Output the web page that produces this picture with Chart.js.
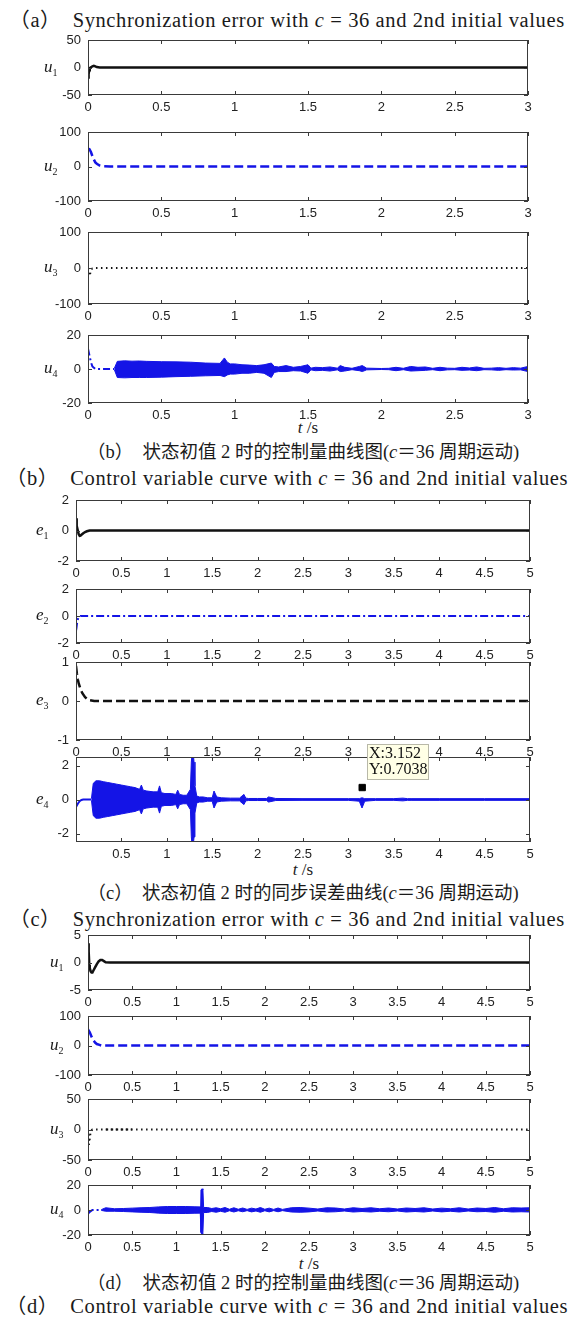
<!DOCTYPE html>
<html>
<head>
<meta charset="utf-8">
<script src="https://cdn.jsdelivr.net/npm/chart.js@4.4.1/dist/chart.umd.min.js"></script>
<style>
  body { margin:0; background:#fff; }
  #fig { position:relative; width:575px; height:1329px; overflow:hidden; background:#fff; }
  .txt { position:absolute; white-space:pre; color:#1a1a1a; font-family:"Liberation Serif","Noto Sans CJK SC",serif; line-height:1; }
  .en { letter-spacing:0.6px; }
  .sub { font-size:10px; vertical-align:-4px; font-style:normal; }
</style>
</head>
<body>
<div id="fig"></div>
<script>
// ---------- data ----------
var ticksA = [0, 0.5, 1, 1.5, 2, 2.5, 3];
var ticksC = [0, 0.5, 1, 1.5, 2, 2.5, 3, 3.5, 4, 4.5, 5];

// (a) u1..u4, t = 0..3 s
var aU1T = [0, 0.004, 0.008, 0.012, 0.02, 0.03, 0.04, 0.05, 0.06, 0.08, 3];
var aU1V = [-18, -12, -5, -1, 0.5, 2, 3, 2, 0.8, 0, 0];
var aU2T = [0, 0.01, 0.02, 0.03, 0.04, 0.05, 0.06, 0.08, 0.1, 0.15, 3];
var aU2V = [52, 50, 42, 30, 20, 12, 8, 3, 1, 0, 0];
var aU3T = [0, 0.005, 0.01, 0.015, 0.02, 0.03, 0.05, 3];
var aU3V = [0, -10, -22, -15, -5, -1, 0, 0];
var aU4T = [0, 0.01, 0.02, 0.03, 0.05, 0.18];
var aU4V = [12, 8, 4, 1.5, 0, 0];
var aU4BandT = [0.18, 0.2, 0.25, 0.3, 0.35, 0.4, 0.5, 0.6, 0.7, 0.8,
                0.9, 0.93, 0.95, 0.97, 1.0, 1.05, 1.1, 1.15, 1.2, 1.25,
                1.27, 1.3, 1.35, 1.4, 1.45, 1.5, 1.52, 1.55, 1.6, 1.65,
                1.7, 1.72, 1.75, 1.8, 1.85, 1.87, 1.9, 1.95, 2.0, 2.05,
                2.1, 2.15, 2.2, 2.25, 2.3, 2.35, 2.4, 2.45, 2.5, 2.55,
                2.6, 2.65, 2.7, 2.75, 2.8, 2.85, 2.9, 2.95, 3.0];
var aU4BandUp = [0.5, 4.5, 4.8, 4.6, 4.7, 4.5, 4.3, 4.2, 4.0, 3.5,
                 3.3, 6.5, 4.0, 3.0, 3.0, 2.5, 2.3, 2.0, 2.5, 3.5,
                 1.5, 1.2, 2.0, 1.0, 1.5, 2.5, 0.5, 1.0, 0.8, 1.2,
                 0.5, 2.0, 1.0, 0.4, 1.5, 2.0, 0.5, 0.4, 0.3, 0.4,
                 1.0, 0.4, 1.5, 1.0, 1.2, 0.4, 1.0, 0.5, 0.4, 1.0,
                 0.6, 1.2, 0.4, 0.5, 0.8, 0.4, 0.8, 0.5, 1.5];
var aU4BandLo = [-0.5, -5, -5.2, -5, -5, -5, -4.8, -4.5, -4.3, -4,
                 -3.8, -4.5, -3.5, -3, -3, -2.5, -2.5, -2, -2.5, -5,
                 -2, -1.5, -1.5, -1, -1.2, -2.5, -0.5, -1, -0.8, -1.2,
                 -0.5, -1.5, -1.2, -0.4, -1, -1.5, -0.5, -0.4, -0.3, -0.4,
                 -1, -0.4, -1.2, -1, -0.8, -0.4, -1, -0.5, -0.4, -0.8,
                 -0.6, -1, -0.4, -0.5, -0.8, -0.4, -0.6, -0.5, -1.5];

// (c) e1..e4, t = 0..5 s
var cE1T = [0, 0.005, 0.01, 0.02, 0.03, 0.04, 0.05, 0.06, 0.08, 0.1, 0.12, 0.15, 0.2, 5];
var cE1V = [0.8, 0.6, 0.3, 0, -0.25, -0.35, -0.33, -0.28, -0.18, -0.1, -0.05, 0, 0, 0];
var cE2T = [0, 0.005, 0.01, 0.02, 0.03, 0.05, 5];
var cE2V = [-1.1, -0.9, -0.6, -0.25, -0.05, 0, 0];
var cE3T = [0, 0.01, 0.02, 0.03, 0.05, 0.07, 0.1, 0.13, 0.15, 0.2, 5];
var cE3V = [0.9, 0.7, 0.55, 0.45, 0.3, 0.2, 0.1, 0.04, 0.02, 0, 0];
var cE4T = [0, 0.02, 0.04, 0.06, 0.08, 0.1, 0.17];
var cE4V = [-0.45, -0.25, -0.1, -0.03, 0, 0, 0];
var cE4BandT = [0.17, 0.19, 0.22, 0.26, 0.3, 0.35, 0.4, 0.45, 0.5, 0.55,
                0.6, 0.65, 0.7, 0.72, 0.74, 0.78, 0.85, 0.9, 0.92, 0.94,
                0.98, 1.05, 1.1, 1.12, 1.14, 1.18, 1.22, 1.26, 1.27, 1.28,
                1.29, 1.3, 1.31, 1.33, 1.36, 1.4, 1.45, 1.5, 1.52, 1.55,
                1.6, 1.7, 1.8, 1.85, 1.87, 1.9, 2.0, 2.1, 2.12, 2.2,
                2.5, 3.0, 3.12, 3.15, 3.18, 3.3, 3.5, 3.6, 3.65, 3.7,
                4.0, 4.5, 5.0];
var cE4BandUp = [0.05, 0.95, 1.1, 1.1, 1.05, 1.0, 0.95, 0.9, 0.85, 0.8,
                 0.75, 0.7, 0.6, 0.85, 0.55, 0.5, 0.45, 0.45, 0.8, 0.4,
                 0.35, 0.35, 0.3, 0.55, 0.3, 0.25, 0.25, 0.6, 2.2, 2.8,
                 2.8, 2.2, 0.8, 0.2, 0.15, 0.15, 0.1, 0.1, 0.5, 0.15,
                 0.1, 0.08, 0.08, 0.3, 0.08, 0.06, 0.06, 0.06, 0.15, 0.06,
                 0.05, 0.05, 0.05, 0.1, 0.05, 0.05, 0.05, 0.08, 0.05, 0.05,
                 0.05, 0.05, 0.05];
var cE4BandLo = [-0.05, -0.95, -1.1, -1.1, -1.05, -1.0, -0.95, -0.9, -0.85, -0.8,
                 -0.75, -0.7, -0.6, -0.85, -0.55, -0.5, -0.45, -0.45, -0.8, -0.4,
                 -0.35, -0.35, -0.3, -0.55, -0.3, -0.25, -0.25, -0.6, -2.2, -2.8,
                 -2.8, -2.2, -0.8, -0.2, -0.15, -0.15, -0.1, -0.1, -0.5, -0.15,
                 -0.1, -0.08, -0.08, -0.3, -0.08, -0.06, -0.06, -0.06, -0.15, -0.06,
                 -0.05, -0.05, -0.1, -0.5, -0.1, -0.05, -0.05, -0.08, -0.05, -0.05,
                 -0.05, -0.05, -0.05];
var tipX = [3.152];
var tipY = [0.7038];

// (d) u1..u4, t = 0..5 s
var dU1T = [0, 0.005, 0.01, 0.015, 0.02, 0.03, 0.04, 0.05, 0.06, 0.08, 0.1, 0.12, 0.14, 0.16, 0.18, 0.2, 0.25, 5];
var dU1V = [1, 3.5, 2, -0.5, -1, -1.6, -1.8, -1.8, -1.5, -0.9, -0.3, 0.2, 0.45, 0.45, 0.25, 0.05, 0, 0];
var dU2T = [0, 0.02, 0.04, 0.06, 0.08, 0.1, 0.13, 0.15, 5];
var dU2V = [55, 45, 30, 18, 10, 5, 2, 0, 0];
var dU3T = [0, 0.005, 0.01, 0.02, 0.03, 0.05, 5];
var dU3V = [0, -10, -25, -15, -3, 0, 0];
var dU3HeavyT = [0.2, 0.5];          // darker stretch near t = 0.2..0.5
var dU3HeavyV = [0, 0];
var dU4T = [0, 0.02, 0.05, 0.1, 0.15];
var dU4V = [-3, -1.5, 0, 0, 0];
var dU4BandT = [0.15, 0.2, 0.3, 0.4, 0.5, 0.6, 0.7, 0.8, 0.9, 1.0,
                1.1, 1.2, 1.27, 1.278, 1.29, 1.3, 1.308, 1.35, 1.4, 1.45,
                1.5, 1.55, 1.6, 1.65, 1.7, 1.75, 1.8, 1.85, 1.9, 1.95,
                2.0, 2.05, 2.1, 2.15, 2.2, 2.3, 2.4, 2.5, 2.6, 2.7,
                2.8, 2.9, 3.0, 3.1, 3.2, 3.3, 3.4, 3.5, 3.6, 3.7,
                3.8, 3.9, 4.0, 4.1, 4.2, 4.3, 4.4, 4.5, 4.6, 4.7,
                4.8, 4.9, 5.0];
var dU4BandUp = [0.3, 1.8, 1.0, 1.2, 1.5, 1.8, 2.0, 2.5, 2.8, 2.8,
                 2.8, 2.6, 2.5, 16, 17, 16, 2.0, 2.0, 1.2, 1.8,
                 1.0, 2.0, 0.6, 1.8, 0.6, 1.6, 0.5, 1.5, 0.8, 2.0,
                 0.6, 1.5, 0.5, 1.6, 0.5, 1.8, 2.0, 1.5, 0.8, 1.8,
                 1.6, 0.8, 1.8, 1.2, 1.8, 1.0, 1.6, 0.8, 1.6, 1.2,
                 1.8, 0.8, 1.5, 1.0, 1.8, 0.8, 1.6, 1.2, 2.0, 1.0,
                 1.8, 1.6, 1.8];
var dU4BandLo = [-0.3, -1.0, -1.0, -1.2, -1.5, -1.8, -2.0, -2.5, -2.8, -2.8,
                 -2.8, -2.6, -2.5, -18, -20, -18, -2.0, -2.0, -1.2, -1.8,
                 -1.0, -1.8, -0.6, -1.6, -0.6, -1.4, -0.5, -1.5, -0.8, -1.8,
                 -0.6, -1.5, -0.5, -1.4, -0.5, -1.6, -1.8, -1.5, -0.8, -1.6,
                 -1.4, -0.8, -1.6, -1.2, -1.6, -1.0, -1.4, -0.8, -1.6, -1.2,
                 -1.6, -0.8, -1.5, -1.0, -1.6, -0.8, -1.4, -1.2, -1.8, -1.0,
                 -1.6, -1.4, -1.6];

// ---------- helpers ----------
var BLUE = '#1414e6';
var fig = document.getElementById('fig');

function pts(t, v) { return t.map(function (x, i) { return { x: x, y: v[i] }; }); }

function line(t, v, color, dash, width) {
  return { data: pts(t, v), borderColor: color, borderWidth: width || 2, borderDash: dash || [], fill: false };
}
function band(t, up, lo, color) {
  return [
    { data: pts(t, up), borderColor: color, borderWidth: 1, fill: false },
    { data: pts(t, lo), borderColor: color, borderWidth: 1, fill: '-1', backgroundColor: color }
  ];
}

// MATLAB-like box with inward ticks (+ optional data tip)
var boxPlugin = {
  id: 'matlabBox',
  afterDraw: function (chart) {
    var ctx = chart.ctx, a = chart.chartArea, x = chart.scales.x, y = chart.scales.y;
    ctx.save();
    ctx.strokeStyle = '#3a3a3a';
    ctx.lineWidth = 1;
    ctx.strokeRect(a.left + 0.5, a.top + 0.5, a.right - a.left - 1, a.bottom - a.top - 1);
    ctx.beginPath();
    x.ticks.forEach(function (t) {
      var p = Math.round(x.getPixelForValue(t.value)) + 0.5;
      ctx.moveTo(p, a.bottom); ctx.lineTo(p, a.bottom - 4);
      ctx.moveTo(p, a.top); ctx.lineTo(p, a.top + 4);
    });
    y.ticks.forEach(function (t) {
      var p = Math.round(y.getPixelForValue(t.value)) + 0.5;
      ctx.moveTo(a.left, p); ctx.lineTo(a.left + 4, p);
      ctx.moveTo(a.right, p); ctx.lineTo(a.right - 4, p);
    });
    ctx.stroke();

    var tip = chart.options.plugins.tipBox;
    if (tip && tip.show) {
      var px = x.getPixelForValue(tipX[0]), py = y.getPixelForValue(tipY[0]);
      var bx = Math.round(px + 5), by = Math.round(py - 44), bw = 62, bh = 36;
      ctx.fillStyle = '#ffffe6';
      ctx.strokeStyle = '#b8b8a8';
      ctx.fillRect(bx, by, bw, bh);
      ctx.strokeRect(bx + 0.5, by + 0.5, bw - 1, bh - 1);
      ctx.fillStyle = '#111';
      ctx.font = '16px "Liberation Serif", serif';
      ctx.textBaseline = 'middle';
      ctx.fillText('X:' + tipX[0], bx + 2, by + 10);
      ctx.fillText('Y:' + tipY[0], bx + 2, by + 26);
    }
    ctx.restore();
  }
};

function panel(o) {
  var padL = 44, padR = 12, padT = o.padT || 16, padB = 26;
  var w = o.R - o.L + padL + padR, h = o.B - o.T + padT + padB;
  var c = document.createElement('canvas');
  c.width = w; c.height = h;
  c.style.cssText = 'position:absolute;left:' + (o.L - padL) + 'px;top:' + (o.T - padT) + 'px;width:' + w + 'px;height:' + h + 'px';
  fig.appendChild(c);
  var tickFont = { family: '"Liberation Sans", Arial, sans-serif', size: 13 };
  new Chart(c, {
    type: 'line',
    data: { datasets: o.datasets },
    options: {
      responsive: false, animation: false, events: [],
      layout: { padding: { top: padT, right: padR, left: 0, bottom: 0 } },
      elements: { point: { radius: 0 }, line: { tension: 0 } },
      plugins: { legend: { display: false }, tooltip: { enabled: false }, tipBox: { show: !!o.tip } },
      scales: {
        x: {
          type: 'linear', min: 0, max: o.xMax,
          afterBuildTicks: function (s) { s.ticks = o.xTicks.map(function (v) { return { value: v }; }); },
          afterFit: function (s) { s.height = padB; },
          grid: { display: false, drawTicks: false }, border: { display: false },
          ticks: {
            padding: 5, color: '#222', font: tickFont, maxRotation: 0, autoSkip: false,
            callback: function (v) { return (o.hideX0 && v === 0) ? '' : String(v); }
          }
        },
        y: {
          type: 'linear', min: o.yMin, max: o.yMax,
          afterBuildTicks: function (s) { s.ticks = o.yTicks.map(function (v) { return { value: v }; }); },
          afterFit: function (s) { s.width = padL; },
          grid: { display: false, drawTicks: false }, border: { display: false },
          ticks: { padding: 7, color: '#222', font: tickFont, callback: function (v) { return String(v); } }
        }
      }
    },
    plugins: [boxPlugin]
  });
  // horizontal y label, e.g. u1
  var zeroY = o.T + (o.B - o.T) * (o.yMax / (o.yMax - o.yMin));
  text(o.labX, zeroY, '<i>' + o.sym + '</i><span class="sub">' + o.idx + '</span>', 17, 'left');
}

function text(x, y, html, size, align, cls) {
  var d = document.createElement('div');
  d.className = 'txt' + (cls ? ' ' + cls : '');
  d.style.fontSize = size + 'px';
  d.style.top = y + 'px';
  d.style.left = x + 'px';
  d.style.transform = align === 'left' ? 'translate(0,-50%)' : 'translate(-50%,-50%)';
  d.innerHTML = html;
  fig.appendChild(d);
}

// ---------- captions ----------
text(287, 20, '（a）  Synchronization error with <i>c</i> = 36 and 2nd initial values', 20.5, 'c', 'en');
text(303, 452, '（b）  状态初值 2 时的控制量曲线图(<i>c</i>＝36 周期运动)', 18.5);
text(287, 478, '（b）  Control variable curve with <i>c</i> = 36 and 2nd initial values', 20.5, 'c', 'en');
text(303, 893, '（c）  状态初值 2 时的同步误差曲线(<i>c</i>＝36 周期运动)', 18.5);
text(287, 919, '（c）  Synchronization error with <i>c</i> = 36 and 2nd initial values', 20.5, 'c', 'en');
text(303, 1283, '（d）  状态初值 2 时的控制量曲线图(<i>c</i>＝36 周期运动)', 18.5);
text(287, 1306, '（d）  Control variable curve with <i>c</i> = 36 and 2nd initial values', 20.5, 'c', 'en');
text(308, 427, '<i>t</i> /s', 17);
text(303, 869, '<i>t</i> /s', 17);
text(309, 1263, '<i>t</i> /s', 17);

// ---------- (a) ----------
var A = { L: 88, R: 528, xMax: 3, xTicks: ticksA, labX: 44 };
panel(Object.assign({}, A, { T: 40, B: 95, yMin: -50, yMax: 50, yTicks: [-50, 0, 50], sym: 'u', idx: 1,
  datasets: [line(aU1T, aU1V, '#111', [], 2.5)] }));
panel(Object.assign({}, A, { T: 132, B: 201, yMin: -100, yMax: 100, yTicks: [-100, 0, 100], sym: 'u', idx: 2,
  datasets: [line(aU2T, aU2V, BLUE, [9, 4], 2.5)] }));
panel(Object.assign({}, A, { T: 232, B: 304, yMin: -100, yMax: 100, yTicks: [-100, 0, 100], sym: 'u', idx: 3,
  datasets: [line(aU3T, aU3V, '#111', [1.5, 3.5], 2)] }));
panel(Object.assign({}, A, { T: 335, B: 403, yMin: -20, yMax: 20, yTicks: [-20, 0, 20], sym: 'u', idx: 4,
  datasets: [line(aU4T, aU4V, BLUE, [7, 3, 2, 3], 2)].concat(band(aU4BandT, aU4BandUp, aU4BandLo, BLUE)) }));

// ---------- (c) ----------
var C = { L: 76, R: 530, xMax: 5, xTicks: ticksC, labX: 36 };
panel(Object.assign({}, C, { T: 500, B: 561, yMin: -2, yMax: 2, yTicks: [-2, 0, 2], sym: 'e', idx: 1,
  datasets: [line(cE1T, cE1V, '#111', [], 2.5)] }));
panel(Object.assign({}, C, { T: 589, B: 643, yMin: -2, yMax: 2, yTicks: [-2, 0, 2], sym: 'e', idx: 2,
  datasets: [line(cE2T, cE2V, BLUE, [8, 3, 2, 3], 2)] }));
panel(Object.assign({}, C, { T: 662, B: 740, yMin: -1, yMax: 1, yTicks: [-1, 0, 1], sym: 'e', idx: 3,
  datasets: [line(cE3T, cE3V, '#111', [9, 4], 2.5)] }));
panel(Object.assign({}, C, { T: 757, B: 842, yMin: -2.5, yMax: 2.5, yTicks: [-2, 0, 2], sym: 'e', idx: 4, hideX0: true, padT: 26, tip: true,
  datasets: [line(cE4T, cE4V, BLUE, [], 2)].concat(band(cE4BandT, cE4BandUp, cE4BandLo, BLUE)).concat([
    { type: 'scatter', data: pts(tipX, tipY), pointStyle: 'rect', pointRadius: 4.5, backgroundColor: '#000', borderColor: '#000' }
  ]) }));

// ---------- (d) ----------
var D = { L: 88, R: 530, xMax: 5, xTicks: ticksC, labX: 50 };
panel(Object.assign({}, D, { T: 935, B: 990, yMin: -5, yMax: 5, yTicks: [-5, 0, 5], sym: 'u', idx: 1,
  datasets: [line(dU1T, dU1V, '#111', [], 2.5)] }));
panel(Object.assign({}, D, { T: 1016, B: 1075, yMin: -100, yMax: 100, yTicks: [-100, 0, 100], sym: 'u', idx: 2,
  datasets: [line(dU2T, dU2V, BLUE, [9, 4], 2.5)] }));
panel(Object.assign({}, D, { T: 1099, B: 1160, yMin: -50, yMax: 50, yTicks: [-50, 0, 50], sym: 'u', idx: 3,
  datasets: [line(dU3T, dU3V, '#111', [1.5, 3.5], 2), line(dU3HeavyT, dU3HeavyV, '#222', [2.5, 2.5], 2)] }));
panel(Object.assign({}, D, { T: 1185, B: 1235, yMin: -20, yMax: 20, yTicks: [-20, 0, 20], sym: 'u', idx: 4,
  datasets: [line(dU4T, dU4V, BLUE, [7, 3, 2, 3], 2)].concat(band(dU4BandT, dU4BandUp, dU4BandLo, BLUE)) }));
</script>
</body>
</html>
